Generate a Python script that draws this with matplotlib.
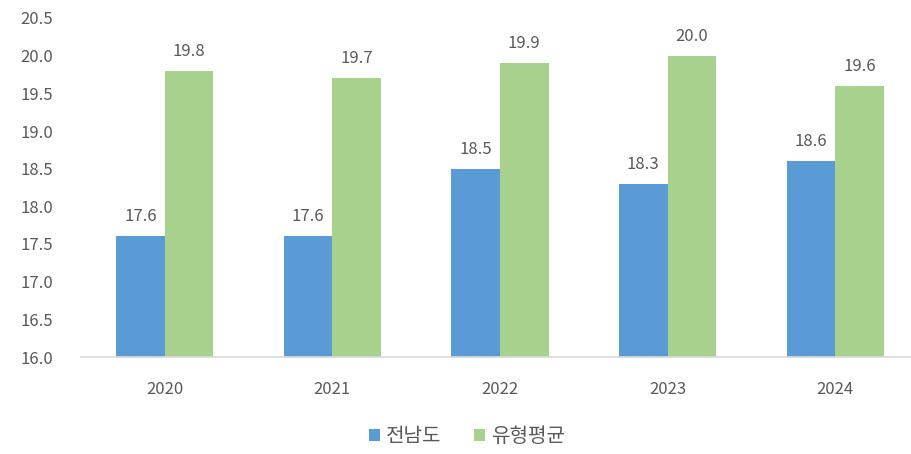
import matplotlib
matplotlib.use("Agg")
import matplotlib.pyplot as plt
import numpy as np

plt.rcParams['font.family'] = ['Noto Sans CJK KR', 'DejaVu Sans']

years = ["2020", "2021", "2022", "2023", "2024"]
jeonnam = [17.6, 17.6, 18.5, 18.3, 18.6]
type_avg = [19.8, 19.7, 19.9, 20.0, 19.6]
series_names = ["전남도", "유형평균"]
yticks = [16.0, 16.5, 17.0, 17.5, 18.0, 18.5, 19.0, 19.5, 20.0, 20.5]

blue = "#5B9BD5"
green = "#A9D18E"
txt = "#595959"

fig = plt.figure(figsize=(9.12, 4.54), dpi=100)
ax = fig.add_axes([81/912, 97/454, 838/912, 339/454])

x = np.arange(len(years))
w = 0.29
b1 = ax.bar(x - w/2, [v - 16 for v in jeonnam], w, bottom=16, color=blue, label=series_names[0])
b2 = ax.bar(x + w/2, [v - 16 for v in type_avg], w, bottom=16, color=green, label=series_names[1])

for xi, v in zip(x - w/2, jeonnam):
    ax.annotate(f"{v:.1f}", (xi, v), xytext=(0, 8), textcoords="offset points",
                ha="center", va="bottom", fontsize=12, color=txt)
for xi, v in zip(x + w/2, type_avg):
    ax.annotate(f"{v:.1f}", (xi, v), xytext=(0, 8), textcoords="offset points",
                ha="center", va="bottom", fontsize=12, color=txt)

ax.set_xlim(-0.5, len(years) - 0.5)
ax.set_ylim(16.0, 20.5)
ax.set_yticks(yticks)
ax.set_yticklabels([f"{t:.1f}" for t in yticks])
ax.set_xticks(x)
ax.set_xticklabels(years)
ax.tick_params(axis='y', length=0, pad=20, labelsize=12, labelcolor=txt)
ax.tick_params(axis='x', length=0, pad=17, labelsize=12, labelcolor=txt)
for s in ["top", "right", "left"]:
    ax.spines[s].set_visible(False)
ax.spines["bottom"].set_color("#D9D9D9")
ax.spines["bottom"].set_linewidth(1.2)

leg = fig.legend(handles=[b1, b2], labels=series_names, loc="lower center",
                 bbox_to_anchor=(0.512, -0.025), ncol=2, frameon=False,
                 fontsize=14.5, handlelength=0.55, handleheight=0.55,
                 handletextpad=0.3, columnspacing=1.6)
for t in leg.get_texts():
    t.set_color(txt)

fig.savefig("out.png", dpi=100)
